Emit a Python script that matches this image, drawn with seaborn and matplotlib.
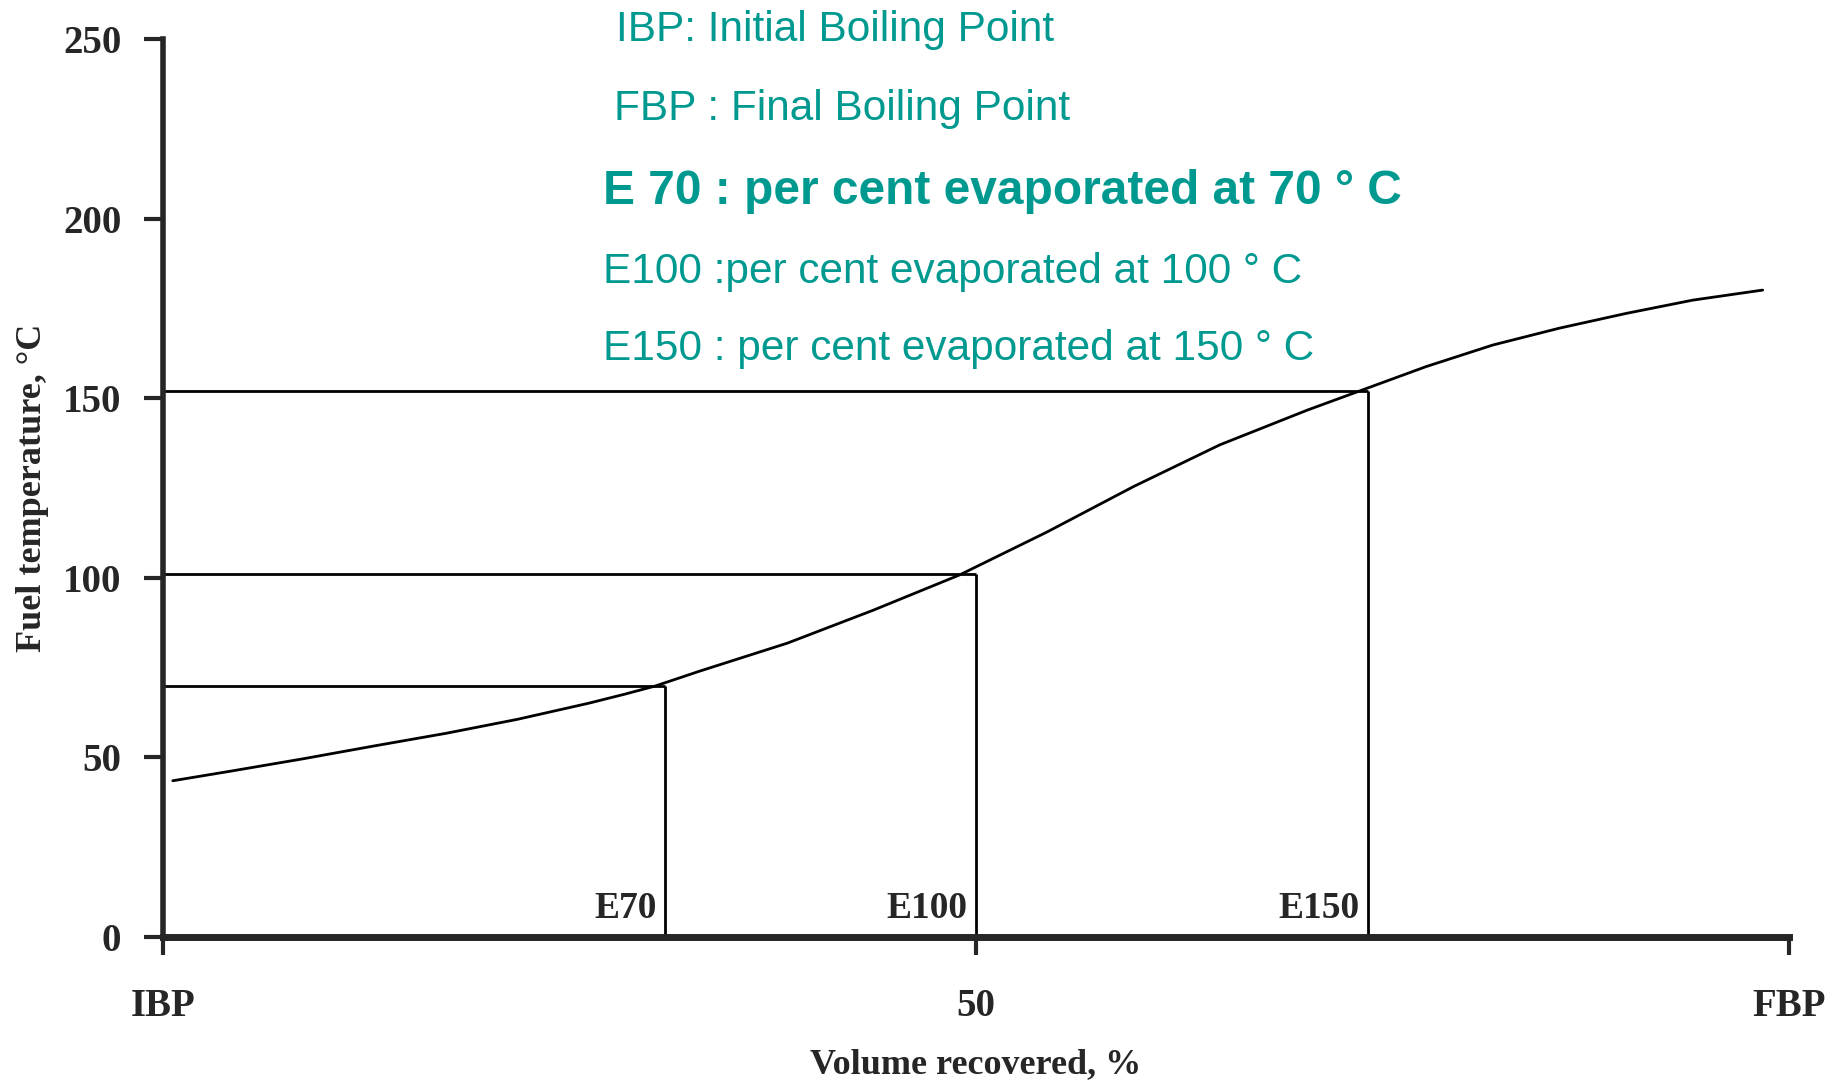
import matplotlib.pyplot as plt
import seaborn as sns
import pandas as pd

# distillation curve
VOLUME = [0.6, 4.2, 8.6, 13.0, 17.4, 21.8, 26.2, 28.4, 30.3, 33.0, 38.4, 43.7,
          49.0, 54.4, 59.7, 65.0, 70.4, 73.6, 77.7, 81.8, 85.9, 90.0, 94.1, 98.4]
TEMP = [43.5, 46.2, 49.6, 53.2, 56.7, 60.6, 65.1, 67.6, 69.9, 74.0, 81.8, 91.0,
        100.8, 112.8, 125.4, 137.0, 146.7, 152.0, 158.8, 164.8, 169.5, 173.6, 177.3, 180.1]

# E-points
E_NAMES = ["E70", "E100", "E150"]
E_VOLUME = [30.9, 50.0, 74.1]
E_TEMP = [70, 101, 152]

Y_TICKS = [0, 50, 100, 150, 200, 250]
X_TICKS = [0, 50, 100]
X_TICK_LABELS = ["IBP", "50", "FBP"]

NOTES = [
    ("IBP: Initial Boiling Point", "normal"),
    ("FBP : Final Boiling Point", "normal"),
    ("E 70 : per cent evaporated at 70 ° C", "bold"),
    ("E100 :per cent evaporated at 100 ° C", "normal"),
    ("E150 : per cent evaporated at 150 ° C", "normal"),
]

TEAL = "#009990"
SERIF = "Liberation Serif"

sns.set_style("white")
plt.rcParams["font.family"] = [SERIF, "DejaVu Sans"]

fig = plt.figure(figsize=(18.44, 10.83), dpi=100)
ax = fig.add_axes([0.0884, 0.1348, 0.9700 - 0.0884, 0.964 - 0.1348])

df = pd.DataFrame({"volume": VOLUME, "temp": TEMP})
sns.lineplot(data=df, x="volume", y="temp", ax=ax, color="black", linewidth=2)

# guide lines for each E-point
ax.hlines(E_TEMP, 0, E_VOLUME, color="black", linewidth=2)
ax.vlines(E_VOLUME, 0, E_TEMP, color="black", linewidth=2)
for name, xv in zip(E_NAMES, E_VOLUME):
    ax.text(xv - 0.5, 3, name, ha="right", va="bottom", fontsize=27,
            fontweight="bold", family=SERIF)

ax.set_xlim(0, 100)
ax.set_ylim(0, 250)
ax.set_xticks(X_TICKS)
ax.set_xticklabels(X_TICK_LABELS)
ax.set_yticks(Y_TICKS)

for side in ["top", "right"]:
    ax.spines[side].set_visible(False)
ax.spines["left"].set_linewidth(4)
ax.spines["bottom"].set_linewidth(5)

ax.tick_params(axis="x", direction="out", length=13, width=3, pad=24,
               labelsize=28, bottom=True)
ax.tick_params(axis="y", direction="out", length=14, width=3, pad=16,
               labelsize=28, left=True)
for lab in ax.get_xticklabels() + ax.get_yticklabels():
    lab.set_fontweight("bold")

ax.set_xlabel("Volume recovered, %", fontsize=26, fontweight="bold")
ax.set_ylabel("Fuel temperature, °C", fontsize=26, fontweight="bold")
ax.xaxis.set_label_coords(0.5, -0.124)
ax.yaxis.set_label_coords(-0.070, 0.5)

# teal notes at the top
note_x = [0.334, 0.333, 0.327, 0.327, 0.327]
note_y = [1 - 30 / 1083, 1 - 109 / 1083, 1 - 192 / 1083, 1 - 272 / 1083, 1 - 349 / 1083]
for (txt, weight), nx, ny in zip(NOTES, note_x, note_y):
    fig.text(nx, ny, txt, ha="left", va="center", color=TEAL,
             fontsize=34.5 if weight == "bold" else 30.5, fontweight=weight,
             family=["Liberation Sans", "DejaVu Sans"])

fig.savefig("out.png", dpi=100)
